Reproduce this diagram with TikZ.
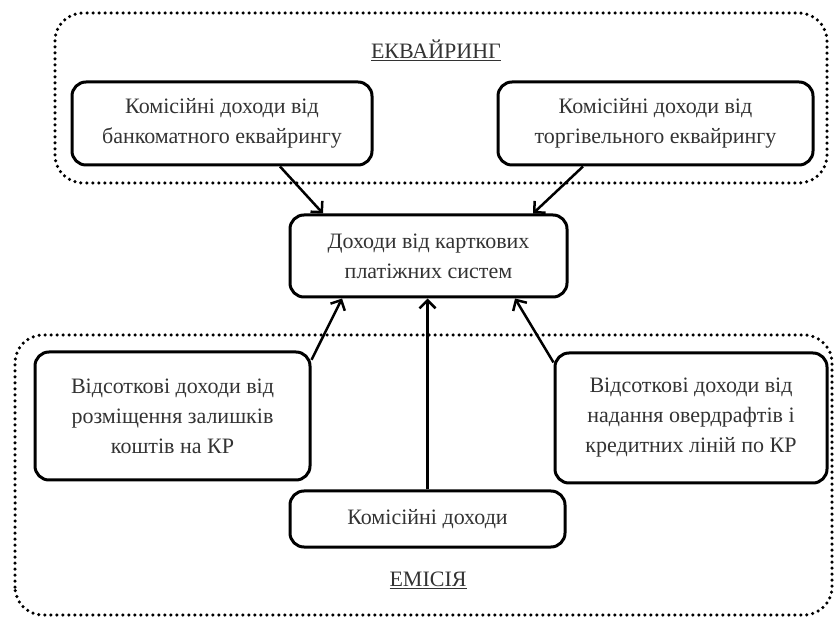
\documentclass[tikz,border=0pt]{standalone}
\usepackage{fontspec}
\setmainfont{Liberation Serif}
\usetikzlibrary{arrows.meta}

\begin{document}
\begin{tikzpicture}[x=1pt, y=1pt,
	box/.style={draw, line width=3pt, rounded corners=14pt, align=center, inner sep=0pt, text=black!80, font=\fontsize{22}{30}\selectfont},
	frame/.style={line width=3.5pt, dash pattern=on 0pt off 6pt, line cap=round, rounded corners=28pt},
	title/.style={text=black!80, font=\fontsize{22}{30}\selectfont},
	arr/.style={->, line width=2.5pt},
	>={Straight Barb[length=8pt,width=16pt]}]
	\useasboundingbox (0,0) rectangle (834,618);
	% dotted groups
	\draw[frame] (55,435) rectangle (827,605);
	\draw[frame] (15,3) rectangle (832,283);
	\node[title] (acq) at (436,568) {\underline{ЕКВАЙРИНГ}};
	\node[title] (emis) at (428,38) {\underline{ЕМІСІЯ}};
	% boxes
	\node[box, minimum width=300, minimum height=83] (atm) at (222,494.5) {Комісійні доходи від\\банкоматного еквайрингу};
	\node[box, minimum width=315, minimum height=83] (trade) at (655.5,494.5) {Комісійні доходи від\\торгівельного еквайрингу};
	\node[box, minimum width=277, minimum height=82] (income) at (428.5,362) {Доходи від карткових\\платіжних систем};
	\node[box, minimum width=275, minimum height=128] (deposit) at (172.5,202) {Відсоткові доходи від\\розміщення залишків\\коштів на КР};
	\node[box, minimum width=272, minimum height=130] (overdraft) at (691,200) {Відсоткові доходи від\\надання овердрафтів і\\кредитних ліній по КР};
	\node[box, minimum width=275, minimum height=56] (fee) at (427.5,99) {Комісійні доходи};
	% arrows
	\draw[arr] ([xshift=58]atm.south) -- ([xshift=-105.5]income.north);
	\draw[arr] ([xshift=-72.5]trade.south) -- ([xshift=104.5]income.north);
	\draw[arr] (deposit.22) -- ([xshift=-86.5]income.south);
	\draw[arr] (overdraft.158) -- ([xshift=86.5]income.south);
	\draw[arr] (fee.north) -- (fee.north |- income.south);
\end{tikzpicture}
\end{document}
